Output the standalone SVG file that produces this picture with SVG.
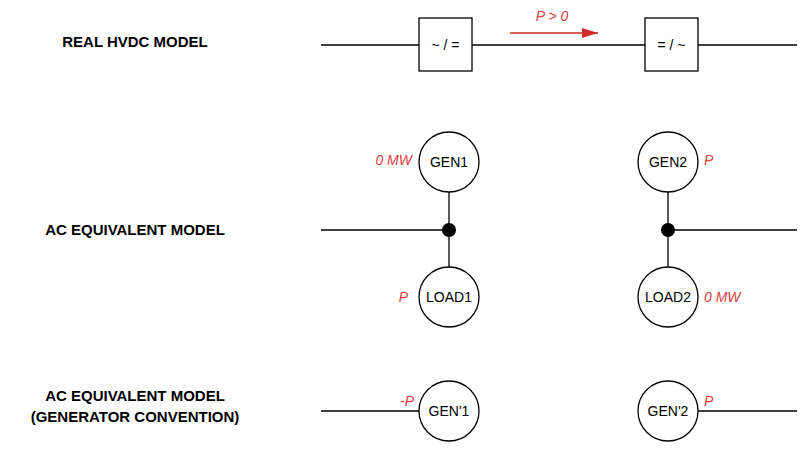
<svg xmlns="http://www.w3.org/2000/svg" width="810" height="450" viewBox="0 0 810 450">
<defs>
<style>
.ln{stroke:#000;stroke-width:1.3;fill:none}
.nd{fill:#fff;stroke:#000;stroke-width:1.3}
.t{font-family:"Liberation Sans",Arial,sans-serif;font-size:14px;fill:#000;text-anchor:middle}
.h{font-family:"Liberation Sans",Arial,sans-serif;font-size:15px;font-weight:bold;fill:#000;text-anchor:middle}
.r{font-family:"Liberation Sans",Arial,sans-serif;font-size:14px;font-style:italic;fill:#e03c3c}
</style>
<marker id="ar" viewBox="0 0 10 10" refX="10" refY="5" markerWidth="16" markerHeight="10" markerUnits="userSpaceOnUse" orient="auto" preserveAspectRatio="none"><path d="M0 0L10 5L0 10z" fill="#d32a2a"/></marker>
</defs>
<g id="labels">
<text class="h" x="135" y="47">REAL HVDC MODEL</text>
<text class="h" x="135" y="235">AC EQUIVALENT MODEL</text>
<text class="h" x="135" y="401">AC EQUIVALENT MODEL</text>
<text class="h" x="135" y="422">(GENERATOR CONVENTION)</text>
</g>
<g id="connectors">
<line class="ln" x1="321" y1="45" x2="419" y2="45"/>
<line class="ln" x1="472" y1="45" x2="645" y2="45"/>
<line class="ln" x1="698" y1="45" x2="797" y2="45"/>
<line x1="510" y1="33" x2="598" y2="33" stroke="#d32a2a" stroke-width="1.3" marker-end="url(#ar)"/>
<line class="ln" x1="321" y1="230" x2="449" y2="230"/>
<line class="ln" x1="449" y1="192" x2="449" y2="267"/>
<line class="ln" x1="668" y1="230" x2="797" y2="230"/>
<line class="ln" x1="668" y1="192" x2="668" y2="267"/>
<line class="ln" x1="321" y1="411" x2="419" y2="411"/>
<line class="ln" x1="698" y1="411" x2="797" y2="411"/>
<circle cx="449" cy="230" r="7" fill="#000"/>
<circle cx="668" cy="230" r="7" fill="#000"/>
</g>
<g id="conv1"><rect class="nd" x="419" y="18" width="53" height="53"/><text class="t" x="445.5" y="50">~ / =</text></g>
<g id="conv2"><rect class="nd" x="645" y="18" width="53" height="53"/><text class="t" x="671.5" y="50">= / ~</text></g>
<text class="r" x="552" y="21" text-anchor="middle">P &gt; 0</text>
<g id="gen1"><circle class="nd" cx="449" cy="162" r="30"/><text class="t" x="449" y="167">GEN1</text><text class="r" x="412" y="165" text-anchor="end">0 MW</text></g>
<g id="load1"><circle class="nd" cx="449" cy="297" r="30"/><text class="t" x="449" y="302">LOAD1</text><text class="r" x="408" y="302" text-anchor="end">P</text></g>
<g id="gen2"><circle class="nd" cx="668" cy="162" r="30"/><text class="t" x="668" y="167">GEN2</text><text class="r" x="704" y="165">P</text></g>
<g id="load2"><circle class="nd" cx="668" cy="297" r="30"/><text class="t" x="668" y="302">LOAD2</text><text class="r" x="704" y="302">0 MW</text></g>
<g id="genp1"><circle class="nd" cx="449" cy="411" r="30"/><text class="t" x="449" y="416">GEN'1</text><text class="r" x="414" y="406" text-anchor="end">-P</text></g>
<g id="genp2"><circle class="nd" cx="668" cy="411" r="30"/><text class="t" x="668" y="416">GEN'2</text><text class="r" x="704" y="406">P</text></g>
</svg>
